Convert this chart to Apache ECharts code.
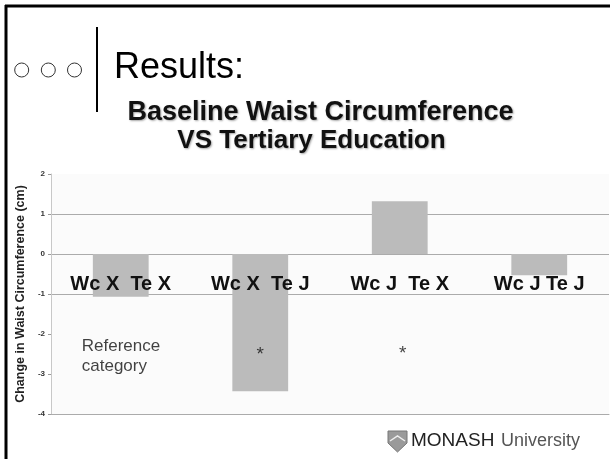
<!DOCTYPE html>
<html>
<head>
<meta charset="utf-8">
<script src="https://cdn.jsdelivr.net/npm/echarts@6/dist/echarts.min.js"></script>
<style>
html,body{margin:0;padding:0;background:#fff;}
#chart{width:610px;height:459px;}
</style>
</head>
<body>
<div id="chart"></div>
<script>
// ---- data ----
const categories = ['Wc X  Te X', 'Wc X  Te J', 'Wc J  Te X', 'Wc J Te J'];
const changeValues = [-1.07, -3.43, 1.32, -0.53];
const annotationTexts = ['Reference\ncategory', '*', '*', ''];
const annotationY = [-2.55, -2.55, -2.52, null];
const yTicks = [-4, -3, -2, -1, 0, 1, 2];
const titleText = 'Results:';
const subtitleLine1 = 'Baseline Waist Circumference';
const subtitleLine2 = 'VS Tertiary Education';
const yAxisName = 'Change in Waist Circumference (cm)';

const shownGridLines = [-4, -1, 0, 1];
const gridColor = '#ababab';

const chart = echarts.init(document.getElementById('chart'), null, {renderer: 'canvas'});

const titleShadow = {
  textShadowColor: 'rgba(0,0,0,0.35)',
  textShadowBlur: 2,
  textShadowOffsetX: 1,
  textShadowOffsetY: 1
};

const option = {
  backgroundColor: '#ffffff',
  animation: false,
  grid: {
    left: 51, right: 1, top: 174, bottom: 45,
    show: true, backgroundColor: '#fbfbfb', borderWidth: 0
  },
  xAxis: {
    type: 'category',
    data: categories,
    axisLine: {show: true, onZero: false, lineStyle: {color: gridColor, width: 1}},
    axisTick: {show: false},
    axisLabel: {
      show: true, margin: -140, interval: 0, hideOverlap: false,
      color: '#111', fontFamily: 'Arial, Liberation Sans, sans-serif',
      fontWeight: 'bold', fontSize: 20
    },
    splitLine: {show: false},
    z: 10
  },
  yAxis: {
    type: 'value',
    min: yTicks[0], max: yTicks[yTicks.length - 1], interval: 1,
    name: yAxisName,
    nameLocation: 'middle',
    nameRotate: 90,
    nameGap: 22,
    nameTextStyle: {
      fontFamily: 'Arial, Liberation Sans, sans-serif',
      fontWeight: 'bold', fontSize: 12.5, color: '#222'
    },
    axisLine: {show: true, lineStyle: {color: '#c8c8c8', width: 1}},
    axisTick: {show: true, length: 3, lineStyle: {color: '#999'}},
    axisLabel: {
      margin: 6, color: '#333',
      fontFamily: 'Arial, Liberation Sans, sans-serif',
      fontWeight: 'bold', fontSize: 8
    },
    splitLine: {
      show: true,
      lineStyle: {
        width: 1,
        color: yTicks.map(v => shownGridLines.includes(v) ? gridColor : 'rgba(0,0,0,0)')
      }
    }
  },
  series: [
    {
      type: 'bar',
      data: changeValues,
      barWidth: '40%',
      itemStyle: {color: '#bbbbbb'},
      z: 2
    },
    {
      type: 'scatter',
      symbolSize: 0,
      silent: true,
      data: annotationY.map((y, i) => ({
        value: [categories[i], y],
        label: {
          show: annotationTexts[i] !== '',
          formatter: annotationTexts[i],
          position: 'inside',
          align: i === 0 ? 'left' : 'center',
          offset: i === 0 ? [-39, 0] : (i === 2 ? [3, -1] : [0, -1]),
          fontFamily: 'Arial, Liberation Sans, sans-serif',
          fontSize: i === 0 ? 17 : 19,
          lineHeight: 20,
          color: '#111'
        }
      })),
      z: 5
    }
  ],
  graphic: [
    // slide border
    {type: 'line', shape: {x1: 5, y1: 6, x2: 610, y2: 6}, style: {stroke: '#000', lineWidth: 3}},
    {type: 'line', shape: {x1: 6, y1: 5, x2: 6, y2: 459}, style: {stroke: '#000', lineWidth: 3}},
    // bullets
    {type: 'circle', shape: {cx: 21.7, cy: 70, r: 7}, style: {fill: '#fff', stroke: '#333', lineWidth: 1}},
    {type: 'circle', shape: {cx: 48.3, cy: 70, r: 7}, style: {fill: '#fff', stroke: '#333', lineWidth: 1}},
    {type: 'circle', shape: {cx: 74.5, cy: 70, r: 7}, style: {fill: '#fff', stroke: '#333', lineWidth: 1}},
    {type: 'line', shape: {x1: 97, y1: 27, x2: 97, y2: 112}, style: {stroke: '#000', lineWidth: 2}},
    // titles
    {type: 'text', left: 114, top: 50, style: {
      text: titleText, fill: '#000', fontFamily: 'Arial, Liberation Sans, sans-serif', fontSize: 36
    }},
    {type: 'text', x: 320.5, y: 113, style: Object.assign({
      text: subtitleLine1, fill: '#111', align: 'center', verticalAlign: 'middle',
      fontFamily: 'Arial, Liberation Sans, sans-serif', fontWeight: 'bold', fontSize: 27
    }, titleShadow)},
    {type: 'text', x: 311.5, y: 141, style: Object.assign({
      text: subtitleLine2, fill: '#111', align: 'center', verticalAlign: 'middle',
      fontFamily: 'Arial, Liberation Sans, sans-serif', fontWeight: 'bold', fontSize: 26
    }, titleShadow)},
    // Monash logo
    {type: 'polygon', shape: {points: [[388, 431], [407, 431], [407, 443], [397.5, 452], [388, 443]]},
      style: {fill: '#9a9a9a', stroke: '#777', lineWidth: 1}},
    {type: 'polyline', shape: {points: [[390, 441], [397.5, 436], [405, 441]]},
      style: {stroke: '#eee', lineWidth: 1.5, fill: null}},
    {type: 'text', x: 411, y: 441, style: {
      text: 'MONASH', fill: '#222', verticalAlign: 'middle',
      fontFamily: 'Arial, Liberation Sans, sans-serif', fontSize: 19
    }},
    {type: 'text', x: 501, y: 441, style: {
      text: 'University', fill: '#555', verticalAlign: 'middle',
      fontFamily: 'Arial, Liberation Sans, sans-serif', fontSize: 18
    }}
  ]
};

chart.setOption(option);
</script>
</body>
</html>
